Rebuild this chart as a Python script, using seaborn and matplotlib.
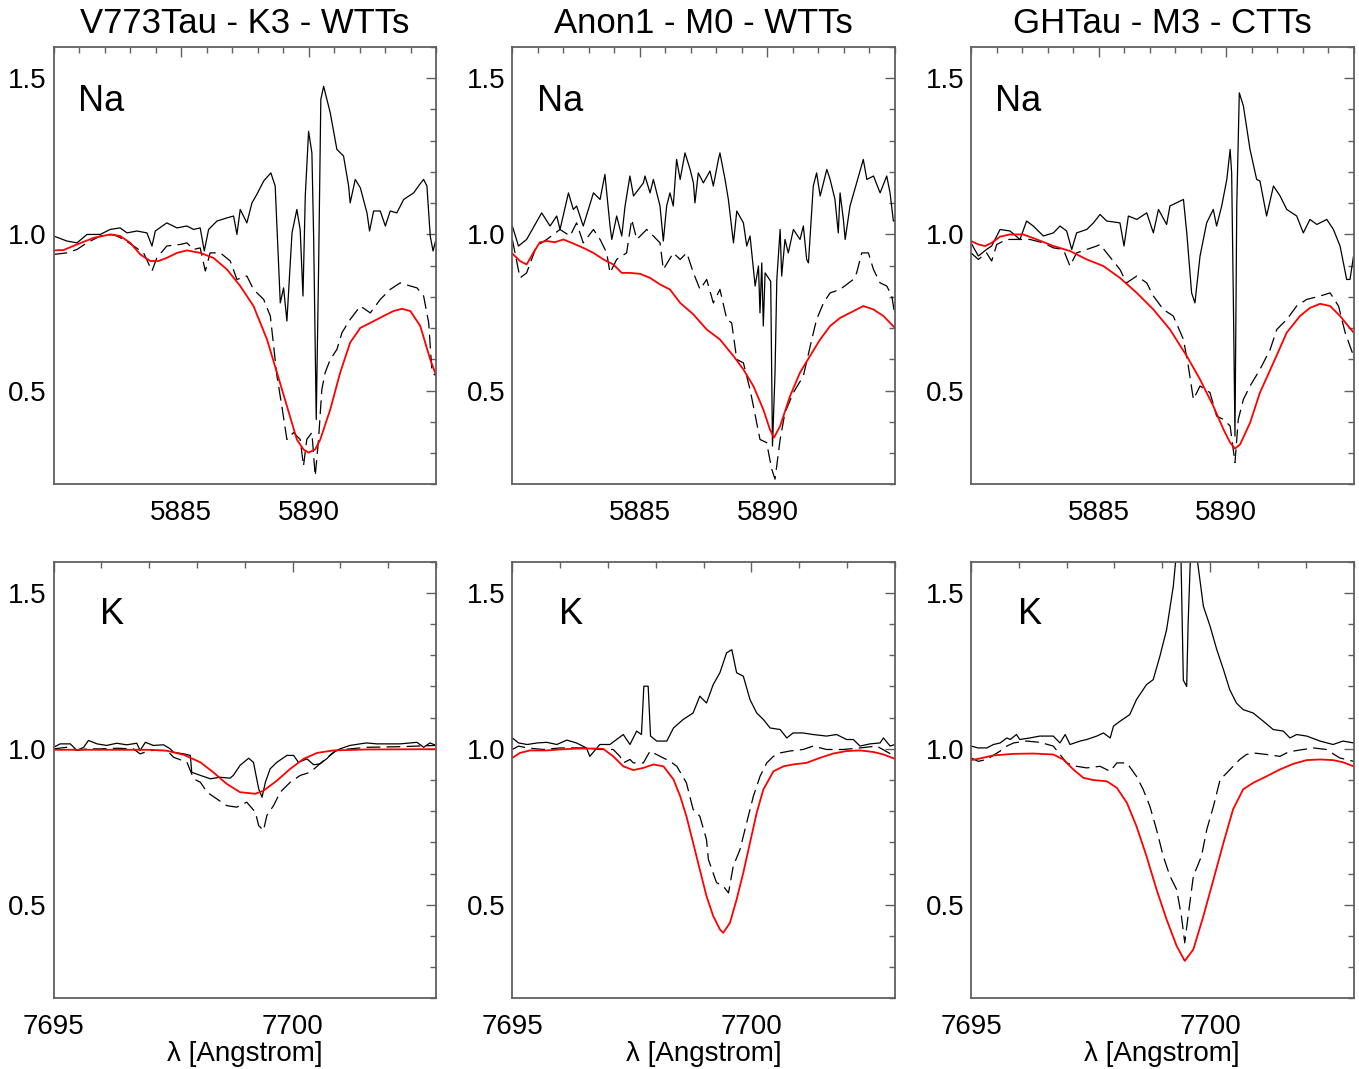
import matplotlib
matplotlib.use("Agg")
import matplotlib.pyplot as plt
from matplotlib.ticker import MultipleLocator, FixedLocator
import seaborn as sns

# ---------------- data ----------------
titles = ["V773Tau - K3 - WTTs", "Anon1 - M0 - WTTs", "GHTau - M3 - CTTs"]
na_ticks = [5885, 5890]
k_ticks = [7695, 7700]
y_ticks = [0.5, 1.0, 1.5]
y_ticklabels = ["0.5", "1.0", "1.5"]

# V773Tau Na
v773_na_obs_x = [5880.00, 5880.20, 5880.52, 5880.92, 5881.31, 5881.83, 5882.22, 5882.61, 5882.88, 5883.27, 5883.66, 5883.86, 5883.99, 5884.44, 5884.84, 5885.23, 5885.49, 5885.75, 5885.91, 5886.08, 5886.41, 5886.80, 5887.06, 5887.19, 5887.32, 5887.58, 5887.78, 5887.97, 5888.24, 5888.52, 5888.69, 5888.89, 5889.02, 5889.15, 5889.35, 5889.54, 5889.67, 5889.78, 5889.87, 5890.00, 5890.13, 5890.20, 5890.30, 5890.39, 5890.48, 5890.59, 5890.85, 5891.11, 5891.37, 5891.57, 5891.63, 5891.83, 5892.03, 5892.29, 5892.39, 5892.55, 5892.81, 5893.01, 5893.20, 5893.46, 5893.73, 5894.12, 5894.31, 5894.51, 5894.64, 5894.77, 5894.88, 5895.01]
v773_na_obs_y = [0.995, 0.989, 0.979, 0.973, 1.0, 1.0, 1.016, 1.021, 1.005, 1.011, 1.005, 0.963, 1.011, 1.037, 1.021, 1.027, 1.016, 1.021, 0.947, 1.016, 1.043, 1.053, 1.059, 1.0, 1.080, 1.037, 1.101, 1.128, 1.171, 1.197, 1.155, 0.781, 0.829, 0.723, 1.005, 1.080, 1.016, 0.803, 1.123, 1.330, 1.261, 0.984, 0.408, 0.877, 1.432, 1.474, 1.389, 1.272, 1.251, 1.155, 1.101, 1.176, 1.149, 1.069, 1.011, 1.075, 1.075, 1.027, 1.075, 1.069, 1.112, 1.133, 1.155, 1.176, 1.155, 0.995, 0.947, 0.989]
v773_na_tmp_x = [5880.00, 5880.52, 5880.92, 5881.31, 5881.83, 5882.35, 5882.75, 5883.14, 5883.53, 5883.86, 5884.05, 5884.44, 5884.97, 5885.23, 5885.49, 5885.75, 5885.95, 5886.14, 5886.54, 5886.93, 5887.19, 5887.58, 5887.84, 5888.24, 5888.50, 5888.76, 5888.95, 5889.15, 5889.41, 5889.67, 5889.80, 5889.93, 5890.13, 5890.26, 5890.39, 5890.52, 5890.65, 5890.85, 5891.11, 5891.31, 5891.63, 5892.03, 5892.42, 5892.81, 5893.20, 5893.59, 5893.99, 5894.25, 5894.51, 5894.71, 5894.84, 5895.01]
v773_na_tmp_y = [0.936, 0.941, 0.952, 0.973, 0.995, 1.0, 0.984, 0.963, 0.941, 0.883, 0.925, 0.963, 0.968, 0.973, 0.952, 0.957, 0.883, 0.941, 0.941, 0.915, 0.856, 0.867, 0.824, 0.792, 0.739, 0.547, 0.451, 0.344, 0.366, 0.344, 0.259, 0.344, 0.366, 0.227, 0.344, 0.504, 0.558, 0.600, 0.632, 0.686, 0.728, 0.771, 0.749, 0.792, 0.824, 0.845, 0.835, 0.829, 0.803, 0.717, 0.558, 0.547]
v773_na_mod_x = [5880.00, 5880.39, 5880.92, 5881.57, 5882.22, 5882.61, 5883.01, 5883.40, 5883.79, 5884.12, 5884.44, 5884.84, 5885.23, 5885.75, 5886.27, 5886.80, 5887.32, 5887.84, 5888.37, 5888.76, 5889.15, 5889.54, 5889.80, 5890.00, 5890.26, 5890.46, 5890.85, 5891.24, 5891.63, 5892.03, 5892.42, 5892.94, 5893.33, 5893.66, 5893.99, 5894.38, 5894.77, 5895.01]
v773_na_mod_y = [0.949, 0.950, 0.968, 0.989, 1.000, 0.995, 0.973, 0.936, 0.915, 0.915, 0.925, 0.941, 0.949, 0.941, 0.925, 0.888, 0.835, 0.771, 0.664, 0.558, 0.451, 0.344, 0.312, 0.302, 0.312, 0.344, 0.440, 0.558, 0.654, 0.701, 0.717, 0.739, 0.755, 0.762, 0.755, 0.707, 0.600, 0.547]

# Anon1 Na
anon_na_obs_x = [5880.00, 5880.24, 5880.56, 5881.15, 5881.48, 5881.74, 5881.87, 5882.20, 5882.39, 5882.52, 5882.78, 5883.18, 5883.44, 5883.63, 5883.83, 5883.90, 5884.09, 5884.29, 5884.42, 5884.61, 5884.75, 5885.14, 5885.20, 5885.40, 5885.53, 5885.79, 5885.92, 5886.05, 5886.18, 5886.31, 5886.44, 5886.58, 5886.77, 5886.97, 5887.10, 5887.16, 5887.29, 5887.49, 5887.75, 5887.88, 5888.08, 5888.14, 5888.34, 5888.47, 5888.67, 5888.80, 5889.06, 5889.19, 5889.32, 5889.52, 5889.65, 5889.71, 5889.78, 5889.84, 5889.91, 5890.13, 5890.20, 5890.30, 5890.37, 5890.50, 5890.56, 5890.69, 5890.82, 5891.02, 5891.28, 5891.41, 5891.54, 5891.61, 5891.80, 5891.93, 5892.07, 5892.33, 5892.46, 5892.65, 5892.78, 5892.85, 5892.98, 5893.05, 5893.24, 5893.50, 5893.76, 5893.90, 5894.16, 5894.42, 5894.68, 5894.81, 5894.94, 5895.00]
anon_na_obs_y = [1.027, 0.963, 0.984, 1.069, 1.027, 1.059, 1.016, 1.133, 1.080, 1.091, 1.027, 1.133, 1.112, 1.192, 1.027, 0.984, 1.059, 0.995, 1.091, 1.187, 1.123, 1.165, 1.187, 1.133, 1.176, 1.091, 0.979, 1.091, 1.133, 1.091, 1.240, 1.176, 1.261, 1.208, 1.165, 1.101, 1.197, 1.165, 1.203, 1.155, 1.240, 1.261, 1.176, 1.112, 0.973, 1.075, 1.037, 0.963, 0.995, 0.835, 0.899, 0.749, 0.909, 0.707, 0.877, 0.850, 0.323, 0.558, 0.856, 1.016, 0.867, 0.984, 0.941, 1.016, 0.984, 1.027, 0.920, 0.909, 1.155, 1.197, 1.123, 1.208, 1.176, 1.112, 1.005, 1.133, 1.048, 0.984, 1.091, 1.165, 1.240, 1.176, 1.187, 1.133, 1.187, 1.133, 1.043, 1.043]
anon_na_tmp_x = [5880.00, 5880.30, 5880.56, 5880.95, 5881.35, 5881.87, 5882.26, 5882.52, 5882.78, 5883.18, 5883.44, 5883.70, 5883.83, 5884.09, 5884.48, 5884.68, 5884.88, 5885.27, 5885.53, 5885.79, 5885.92, 5886.31, 5886.58, 5886.84, 5887.10, 5887.36, 5887.62, 5887.88, 5888.14, 5888.41, 5888.60, 5888.80, 5889.06, 5889.32, 5889.45, 5889.71, 5889.97, 5890.17, 5890.30, 5890.50, 5890.69, 5891.02, 5891.41, 5891.74, 5891.93, 5892.20, 5892.46, 5892.85, 5893.37, 5893.50, 5893.70, 5893.96, 5894.16, 5894.42, 5894.68, 5894.88, 5895.00]
anon_na_tmp_y = [0.984, 0.861, 0.877, 0.963, 0.984, 1.016, 0.995, 1.037, 0.973, 1.016, 0.984, 0.941, 0.877, 0.920, 0.941, 1.048, 0.984, 1.016, 0.995, 0.973, 0.888, 0.941, 0.920, 0.941, 0.877, 0.824, 0.856, 0.781, 0.824, 0.728, 0.717, 0.600, 0.589, 0.504, 0.451, 0.344, 0.334, 0.249, 0.217, 0.344, 0.430, 0.494, 0.547, 0.664, 0.728, 0.781, 0.813, 0.824, 0.856, 0.877, 0.941, 0.941, 0.888, 0.845, 0.835, 0.803, 0.739]
anon_na_mod_x = [5880.00, 5880.30, 5880.56, 5880.82, 5881.08, 5881.35, 5881.67, 5882.00, 5882.39, 5882.78, 5883.18, 5883.57, 5883.96, 5884.29, 5884.61, 5885.01, 5885.40, 5885.79, 5886.18, 5886.58, 5887.10, 5887.62, 5888.14, 5888.67, 5889.06, 5889.45, 5889.84, 5890.10, 5890.26, 5890.50, 5890.89, 5891.28, 5891.67, 5892.07, 5892.46, 5892.85, 5893.24, 5893.76, 5894.16, 5894.55, 5895.00]
anon_na_mod_y = [0.939, 0.915, 0.904, 0.941, 0.975, 0.979, 0.975, 0.984, 0.971, 0.957, 0.941, 0.920, 0.904, 0.877, 0.877, 0.874, 0.861, 0.840, 0.824, 0.781, 0.744, 0.696, 0.664, 0.611, 0.568, 0.515, 0.440, 0.376, 0.350, 0.387, 0.483, 0.558, 0.611, 0.664, 0.707, 0.733, 0.749, 0.771, 0.760, 0.739, 0.701]

# GHTau Na
gh_na_obs_x = [5880.00, 5880.29, 5880.61, 5880.81, 5881.14, 5881.53, 5881.92, 5882.18, 5882.44, 5882.84, 5883.23, 5883.49, 5883.75, 5883.95, 5884.14, 5884.54, 5884.80, 5885.06, 5885.32, 5885.84, 5886.00, 5886.17, 5886.50, 5886.89, 5887.15, 5887.35, 5887.67, 5887.80, 5888.33, 5888.46, 5888.65, 5888.78, 5888.98, 5889.24, 5889.50, 5889.63, 5889.83, 5890.03, 5890.16, 5890.22, 5890.29, 5890.35, 5890.42, 5890.52, 5890.68, 5890.94, 5891.20, 5891.33, 5891.59, 5891.86, 5892.12, 5892.38, 5892.77, 5893.03, 5893.29, 5893.56, 5893.95, 5894.21, 5894.47, 5894.73, 5894.86, 5895.00]
gh_na_obs_y = [0.973, 0.931, 0.952, 0.963, 1.016, 1.011, 0.984, 1.043, 1.027, 0.995, 1.005, 1.027, 1.011, 0.952, 1.005, 1.016, 1.037, 1.064, 1.043, 1.037, 0.963, 1.059, 1.048, 1.069, 1.005, 1.080, 1.032, 1.091, 1.112, 1.005, 0.813, 0.781, 0.931, 1.037, 1.080, 1.027, 1.091, 1.176, 1.272, 1.197, 0.771, 0.355, 1.091, 1.453, 1.411, 1.272, 1.176, 1.171, 1.059, 1.155, 1.123, 1.080, 1.059, 1.005, 1.048, 1.032, 1.048, 1.016, 0.963, 0.856, 0.856, 0.931]
gh_na_tmp_x = [5880.00, 5880.29, 5880.61, 5880.81, 5881.01, 5881.40, 5881.92, 5882.31, 5882.84, 5883.23, 5883.62, 5883.88, 5884.14, 5884.54, 5884.93, 5885.06, 5885.32, 5885.84, 5886.10, 5886.50, 5886.89, 5887.15, 5887.54, 5887.93, 5888.33, 5888.52, 5888.72, 5888.98, 5889.37, 5889.63, 5889.90, 5890.16, 5890.35, 5890.48, 5890.68, 5890.94, 5891.33, 5891.73, 5891.99, 5892.38, 5892.77, 5893.16, 5893.69, 5894.08, 5894.41, 5894.67, 5895.00]
gh_na_tmp_y = [0.941, 0.920, 0.941, 0.915, 0.968, 0.984, 0.984, 0.984, 0.973, 0.957, 0.952, 0.899, 0.941, 0.952, 0.963, 0.968, 0.941, 0.888, 0.845, 0.867, 0.845, 0.803, 0.760, 0.739, 0.664, 0.579, 0.472, 0.515, 0.494, 0.419, 0.408, 0.387, 0.270, 0.408, 0.472, 0.515, 0.568, 0.632, 0.696, 0.728, 0.771, 0.792, 0.803, 0.813, 0.771, 0.686, 0.611]
gh_na_mod_x = [5880.00, 5880.29, 5880.55, 5880.81, 5881.14, 5881.53, 5882.05, 5882.58, 5883.23, 5883.88, 5884.54, 5885.19, 5885.84, 5886.50, 5887.15, 5887.80, 5888.46, 5888.98, 5889.50, 5889.90, 5890.16, 5890.35, 5890.55, 5890.94, 5891.33, 5891.86, 5892.38, 5892.90, 5893.29, 5893.69, 5894.08, 5894.47, 5895.00]
gh_na_mod_y = [0.979, 0.968, 0.963, 0.973, 0.993, 1.000, 1.000, 0.984, 0.963, 0.947, 0.920, 0.899, 0.861, 0.813, 0.760, 0.696, 0.611, 0.536, 0.451, 0.376, 0.334, 0.315, 0.328, 0.397, 0.494, 0.590, 0.686, 0.739, 0.765, 0.778, 0.771, 0.739, 0.686]

# V773Tau K
v773_k_obs_x = [7695.00, 7695.14, 7695.35, 7695.49, 7695.63, 7695.73, 7695.91, 7696.11, 7696.32, 7696.53, 7696.74, 7696.81, 7696.92, 7697.09, 7697.30, 7697.44, 7697.51, 7697.72, 7697.86, 7697.89, 7698.07, 7698.28, 7698.48, 7698.69, 7698.76, 7698.90, 7699.08, 7699.18, 7699.29, 7699.36, 7699.43, 7699.53, 7699.67, 7699.88, 7700.02, 7700.12, 7700.30, 7700.44, 7700.57, 7700.71, 7700.85, 7700.99, 7701.20, 7701.41, 7701.55, 7701.76, 7701.97, 7702.25, 7702.60, 7702.74, 7702.87, 7703.00]
v773_k_obs_y = [1.005, 1.016, 1.016, 0.995, 1.005, 1.027, 1.016, 1.011, 1.018, 1.013, 1.018, 0.995, 1.021, 1.011, 1.013, 1.000, 0.989, 0.984, 0.979, 0.925, 0.915, 0.904, 0.909, 0.906, 0.915, 0.947, 0.970, 0.957, 0.872, 0.845, 0.893, 0.936, 0.957, 0.979, 0.979, 0.957, 0.968, 0.949, 0.952, 0.968, 0.989, 1.000, 1.011, 1.016, 1.019, 1.016, 1.016, 1.016, 1.021, 1.005, 1.019, 1.011]
v773_k_tmp_x = [7695.00, 7695.28, 7695.49, 7695.70, 7695.98, 7696.32, 7696.67, 7696.81, 7697.02, 7697.37, 7697.51, 7697.79, 7697.93, 7698.07, 7698.21, 7698.41, 7698.62, 7698.83, 7699.04, 7699.22, 7699.29, 7699.39, 7699.46, 7699.60, 7699.74, 7699.95, 7700.16, 7700.37, 7700.57, 7700.78, 7700.92, 7701.20, 7701.55, 7702.25, 7703.00]
v773_k_tmp_y = [1.000, 1.005, 0.995, 1.000, 1.000, 1.002, 1.000, 0.984, 0.995, 0.995, 0.973, 0.957, 0.904, 0.893, 0.861, 0.840, 0.818, 0.813, 0.829, 0.797, 0.754, 0.738, 0.786, 0.818, 0.861, 0.893, 0.915, 0.925, 0.952, 0.979, 0.995, 1.000, 1.005, 1.007, 1.011]
v773_k_mod_x = [7695.00, 7695.98, 7697.02, 7697.37, 7697.72, 7698.07, 7698.34, 7698.62, 7698.90, 7699.22, 7699.39, 7699.67, 7699.95, 7700.23, 7700.51, 7700.85, 7701.55, 7703.00]
v773_k_mod_y = [0.997, 0.997, 0.997, 0.994, 0.981, 0.957, 0.925, 0.888, 0.861, 0.856, 0.866, 0.898, 0.936, 0.968, 0.987, 0.995, 0.998, 0.999]

# Anon1 K
anon_k_obs_x = [7695.00, 7695.13, 7695.31, 7695.52, 7695.72, 7695.93, 7696.14, 7696.34, 7696.55, 7696.62, 7696.83, 7697.04, 7697.18, 7697.32, 7697.46, 7697.60, 7697.70, 7697.75, 7697.84, 7697.89, 7698.02, 7698.23, 7698.37, 7698.57, 7698.78, 7698.92, 7699.06, 7699.20, 7699.34, 7699.48, 7699.59, 7699.69, 7699.83, 7699.97, 7700.11, 7700.25, 7700.39, 7700.60, 7700.74, 7700.87, 7701.08, 7701.29, 7701.57, 7701.78, 7701.99, 7702.13, 7702.27, 7702.48, 7702.69, 7702.76, 7702.90, 7703.00]
anon_k_obs_y = [1.035, 1.019, 1.014, 1.019, 1.021, 1.014, 1.028, 1.019, 1.003, 0.976, 1.014, 1.014, 1.030, 1.046, 1.014, 1.057, 1.046, 1.201, 1.201, 1.041, 1.025, 1.025, 1.067, 1.094, 1.115, 1.169, 1.147, 1.206, 1.244, 1.308, 1.318, 1.244, 1.233, 1.158, 1.115, 1.094, 1.067, 1.062, 1.035, 1.051, 1.051, 1.046, 1.041, 1.046, 1.030, 1.030, 1.009, 1.016, 1.019, 1.035, 1.009, 1.014]
anon_k_tmp_x = [7695.00, 7695.13, 7695.31, 7695.65, 7696.00, 7696.34, 7696.55, 7696.83, 7697.11, 7697.25, 7697.32, 7697.46, 7697.53, 7697.74, 7697.88, 7698.09, 7698.30, 7698.44, 7698.64, 7698.78, 7698.92, 7699.06, 7699.10, 7699.27, 7699.41, 7699.52, 7699.62, 7699.76, 7699.90, 7700.04, 7700.18, 7700.32, 7700.46, 7700.60, 7700.80, 7701.08, 7701.29, 7701.57, 7701.92, 7702.27, 7702.62, 7703.00]
anon_k_tmp_y = [0.998, 1.009, 1.003, 0.998, 1.003, 1.003, 1.003, 0.998, 0.998, 0.976, 0.955, 0.966, 0.955, 0.955, 0.993, 0.976, 0.960, 0.944, 0.891, 0.806, 0.784, 0.709, 0.645, 0.571, 0.560, 0.538, 0.624, 0.677, 0.763, 0.848, 0.912, 0.955, 0.976, 0.987, 0.993, 0.998, 1.009, 0.998, 0.998, 1.003, 1.009, 0.976]
anon_k_mod_x = [7695.00, 7695.16, 7695.37, 7695.72, 7696.00, 7696.34, 7696.69, 7696.90, 7697.11, 7697.32, 7697.53, 7697.74, 7697.95, 7698.16, 7698.37, 7698.51, 7698.64, 7698.78, 7698.92, 7699.06, 7699.20, 7699.34, 7699.41, 7699.55, 7699.69, 7699.83, 7699.97, 7700.11, 7700.25, 7700.46, 7700.67, 7700.87, 7701.15, 7701.43, 7701.71, 7701.99, 7702.27, 7702.55, 7702.76, 7703.00]
anon_k_mod_y = [0.971, 0.987, 0.995, 0.995, 0.998, 1.001, 1.001, 1.000, 0.976, 0.944, 0.932, 0.939, 0.950, 0.944, 0.902, 0.848, 0.784, 0.699, 0.613, 0.528, 0.464, 0.421, 0.410, 0.442, 0.517, 0.603, 0.699, 0.795, 0.870, 0.928, 0.944, 0.950, 0.955, 0.971, 0.985, 0.993, 0.995, 0.990, 0.982, 0.968]

# GHTau K
gh_k_obs_x = [7695.00, 7695.15, 7695.33, 7695.47, 7695.61, 7695.75, 7695.82, 7695.95, 7696.02, 7696.23, 7696.44, 7696.72, 7696.86, 7696.97, 7697.07, 7697.28, 7697.42, 7697.63, 7697.77, 7697.91, 7697.98, 7698.12, 7698.32, 7698.46, 7698.67, 7698.81, 7698.95, 7699.09, 7699.23, 7699.29, 7699.34, 7699.39, 7699.44, 7699.51, 7699.54, 7699.59, 7699.65, 7699.72, 7699.86, 7700.00, 7700.14, 7700.28, 7700.41, 7700.55, 7700.69, 7700.90, 7701.11, 7701.32, 7701.53, 7701.67, 7701.81, 7702.02, 7702.30, 7702.57, 7702.78, 7703.00]
gh_k_obs_y = [1.009, 1.003, 1.003, 1.014, 1.019, 1.035, 1.030, 1.046, 1.030, 1.035, 1.041, 1.041, 1.019, 1.046, 1.014, 1.025, 1.030, 1.041, 1.051, 1.035, 1.073, 1.089, 1.110, 1.158, 1.206, 1.222, 1.297, 1.382, 1.521, 1.62, 1.70, 1.62, 1.22, 1.20, 1.40, 1.62, 1.70, 1.62, 1.457, 1.393, 1.318, 1.254, 1.190, 1.147, 1.126, 1.115, 1.089, 1.062, 1.057, 1.035, 1.046, 1.041, 1.025, 1.014, 1.025, 1.019]
gh_k_tmp_x = [7695.00, 7695.15, 7695.33, 7695.61, 7695.75, 7695.89, 7696.16, 7696.44, 7696.72, 7696.86, 7697.00, 7697.21, 7697.42, 7697.70, 7697.91, 7698.05, 7698.26, 7698.46, 7698.60, 7698.74, 7698.88, 7699.02, 7699.16, 7699.30, 7699.40, 7699.47, 7699.54, 7699.65, 7699.82, 7699.93, 7700.07, 7700.21, 7700.35, 7700.48, 7700.62, 7700.76, 7700.90, 7701.18, 7701.46, 7701.60, 7701.74, 7701.95, 7702.16, 7702.43, 7702.71, 7703.00]
gh_k_tmp_y = [0.971, 0.960, 0.966, 0.993, 1.009, 1.019, 1.025, 1.021, 1.009, 0.982, 0.955, 0.944, 0.939, 0.944, 0.928, 0.955, 0.955, 0.912, 0.870, 0.816, 0.741, 0.656, 0.592, 0.549, 0.464, 0.378, 0.464, 0.592, 0.656, 0.741, 0.816, 0.902, 0.923, 0.944, 0.966, 0.982, 0.987, 0.982, 0.976, 0.987, 0.993, 0.998, 1.003, 0.998, 0.971, 0.960]
gh_k_mod_x = [7695.00, 7695.15, 7695.47, 7695.89, 7696.30, 7696.72, 7696.93, 7697.14, 7697.35, 7697.56, 7697.84, 7698.05, 7698.26, 7698.46, 7698.67, 7698.88, 7699.09, 7699.30, 7699.47, 7699.65, 7699.86, 7700.07, 7700.28, 7700.48, 7700.69, 7700.90, 7701.18, 7701.46, 7701.74, 7702.02, 7702.30, 7702.57, 7702.78, 7703.00]
gh_k_mod_y = [0.964, 0.968, 0.979, 0.984, 0.985, 0.982, 0.966, 0.934, 0.907, 0.900, 0.896, 0.875, 0.827, 0.752, 0.656, 0.549, 0.453, 0.368, 0.320, 0.357, 0.464, 0.581, 0.699, 0.806, 0.870, 0.891, 0.912, 0.934, 0.952, 0.964, 0.966, 0.964, 0.957, 0.944]

# ---------------- figure ----------------
sns.set_theme(style="white")
plt.rcParams["font.family"] = ["Liberation Sans", "DejaVu Sans"]
plt.rcParams["text.color"] = "black"
plt.rcParams["axes.labelcolor"] = "black"
plt.rcParams["xtick.labelcolor"] = "black"
plt.rcParams["ytick.labelcolor"] = "black"

fig = plt.figure(figsize=(13.59, 10.69), dpi=100)
lefts = [0.0394, 0.3770, 0.7145]
width = 0.2815
rows = [(0.5468, 0.4093), (0.0661, 0.4084)]

panels = [
    [(v773_na_obs_x, v773_na_obs_y, v773_na_tmp_x, v773_na_tmp_y, v773_na_mod_x, v773_na_mod_y),
     (anon_na_obs_x, anon_na_obs_y, anon_na_tmp_x, anon_na_tmp_y, anon_na_mod_x, anon_na_mod_y),
     (gh_na_obs_x, gh_na_obs_y, gh_na_tmp_x, gh_na_tmp_y, gh_na_mod_x, gh_na_mod_y)],
    [(v773_k_obs_x, v773_k_obs_y, v773_k_tmp_x, v773_k_tmp_y, v773_k_mod_x, v773_k_mod_y),
     (anon_k_obs_x, anon_k_obs_y, anon_k_tmp_x, anon_k_tmp_y, anon_k_mod_x, anon_k_mod_y),
     (gh_k_obs_x, gh_k_obs_y, gh_k_tmp_x, gh_k_tmp_y, gh_k_mod_x, gh_k_mod_y)],
]

spine_col = "#606060"
for r, (bottom, height) in enumerate(rows):
    for c, left in enumerate(lefts):
        ax = fig.add_axes([left, bottom, width, height])
        ox, oy, tx, ty, mx, my = panels[r][c]
        sns.lineplot(x=tx, y=ty, ax=ax, color="black", linewidth=0.9,
                     linestyle=(0, (11, 5)), estimator=None, sort=False)
        sns.lineplot(x=ox, y=oy, ax=ax, color="black", linewidth=0.9,
                     estimator=None, sort=False)
        sns.lineplot(x=mx, y=my, ax=ax, color="#ff0000", linewidth=1.3,
                     estimator=None, sort=False)
        ax.set_ylim(0.2, 1.6)
        if r == 0:
            ax.set_xlim(5880, 5895)
            ax.xaxis.set_major_locator(FixedLocator(na_ticks))
            ax.set_xticklabels([str(t) for t in na_ticks])
            ax.text(0.064, 0.854, "Na", transform=ax.transAxes, fontsize=26,
                    ha="left", va="baseline", color="black")
        else:
            ax.set_xlim(7695, 7703)
            ax.xaxis.set_major_locator(FixedLocator(k_ticks))
            ax.set_xticklabels([str(t) for t in k_ticks])
            ax.text(0.122, 0.857, "K", transform=ax.transAxes, fontsize=26,
                    ha="left", va="baseline", color="black")
            ax.set_xlabel("λ [Angstrom]", fontsize=20, labelpad=1, color="black")
        ax.xaxis.set_minor_locator(MultipleLocator(1))
        ax.set_yticks(y_ticks)
        ax.set_yticklabels(y_ticklabels)
        ax.yaxis.set_minor_locator(MultipleLocator(0.1))
        ax.set_ylabel("")
        ax.tick_params(which="both", direction="in", top=True, right=True,
                       color=spine_col, labelsize=20, labelcolor="black")
        ax.tick_params(which="major", length=7.5, width=1.0)
        ax.tick_params(which="minor", length=4.0, width=1.0)
        ax.tick_params(axis="x", which="major", pad=11)
        ax.tick_params(axis="y", which="major", pad=5)
        for s in ax.spines.values():
            s.set_color(spine_col)
            s.set_linewidth(1.3)
        if r == 0:
            fig.text(left + width / 2, 1 - 23.5 / 1069, titles[c], fontsize=25,
                     ha="center", va="center", color="black")

fig.savefig("out.png", dpi=100)
